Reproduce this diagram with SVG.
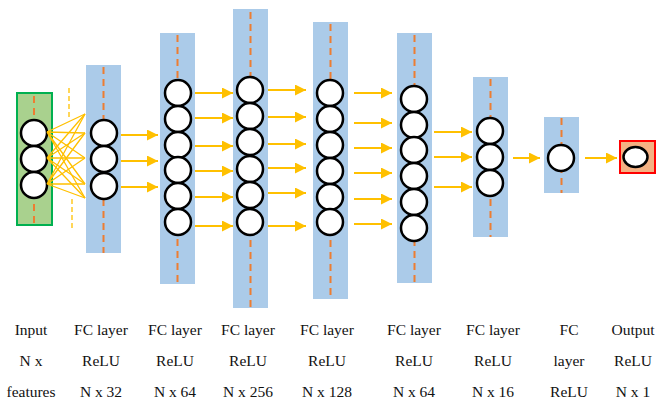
<svg xmlns="http://www.w3.org/2000/svg" width="659" height="402" viewBox="0 0 659 402">
  <style>
    .layer { fill: #abcbe9; }
    .axis { stroke: #ed7d31; stroke-width: 2; stroke-dasharray: 7 5; fill: none; }
    .neuron { fill: #ffffff; stroke: #000000; stroke-width: 2.5; }
    .arrow { stroke: #ffc000; stroke-width: 2; fill: none; marker-end: url(#head); }
    .fan { stroke: #ffc000; stroke-width: 1.3; fill: none; }
    .gap { stroke: #ffc000; stroke-width: 1.3; stroke-dasharray: 5 3; fill: none; }
  </style>
  <defs>
    <marker id="head" markerUnits="userSpaceOnUse" markerWidth="11" markerHeight="11" refX="11" refY="5.5" orient="auto">
      <path d="M0,0 L11,5.5 L0,11 Z" fill="#ffc000"/>
    </marker>
  </defs>
  <rect width="659" height="402" fill="#ffffff"/>

  <!-- input block -->
  <g id="input">
    <rect x="17" y="93" width="35" height="132" fill="#a9d18e" stroke="#00b050" stroke-width="2"/>
    <line class="axis" x1="34" y1="96" x2="34" y2="223"/>
    <circle class="neuron" cx="34" cy="133" r="13"/>
    <circle class="neuron" cx="34" cy="159" r="13"/>
    <circle class="neuron" cx="34" cy="185" r="13"/>
  </g>

  <!-- hidden layers -->
  <g id="fc32">
    <rect class="layer" x="86" y="65" width="35" height="188"/>
    <line class="axis" x1="103.5" y1="67" x2="103.5" y2="253"/>
    <circle class="neuron" cx="104" cy="133" r="13"/>
    <circle class="neuron" cx="104" cy="159" r="13"/>
    <circle class="neuron" cx="104" cy="186" r="13"/>
  </g>
  <g id="fc64a">
    <rect class="layer" x="160" y="33" width="35" height="251"/>
    <line class="axis" x1="177.5" y1="35" x2="177.5" y2="284"/>
    <circle class="neuron" cx="178" cy="93" r="13"/>
    <circle class="neuron" cx="178" cy="119" r="13"/>
    <circle class="neuron" cx="178" cy="145" r="13"/>
    <circle class="neuron" cx="178" cy="170" r="13"/>
    <circle class="neuron" cx="178" cy="196" r="13"/>
    <circle class="neuron" cx="178" cy="222" r="13"/>
  </g>
  <g id="fc256">
    <rect class="layer" x="233" y="9" width="35" height="299"/>
    <line class="axis" x1="250.5" y1="12" x2="250.5" y2="308"/>
    <circle class="neuron" cx="250" cy="90" r="13"/>
    <circle class="neuron" cx="250" cy="116" r="13"/>
    <circle class="neuron" cx="250" cy="142" r="13"/>
    <circle class="neuron" cx="250" cy="169" r="13"/>
    <circle class="neuron" cx="250" cy="195" r="13"/>
    <circle class="neuron" cx="250" cy="222" r="13"/>
  </g>
  <g id="fc128">
    <rect class="layer" x="313" y="22" width="35" height="277"/>
    <line class="axis" x1="330.5" y1="24" x2="330.5" y2="299"/>
    <circle class="neuron" cx="330" cy="93" r="13"/>
    <circle class="neuron" cx="330" cy="119" r="13"/>
    <circle class="neuron" cx="330" cy="145" r="13"/>
    <circle class="neuron" cx="330" cy="171" r="13"/>
    <circle class="neuron" cx="330" cy="197" r="13"/>
    <circle class="neuron" cx="330" cy="222" r="13"/>
  </g>
  <g id="fc64b">
    <rect class="layer" x="397" y="33" width="35" height="250"/>
    <line class="axis" x1="414.5" y1="35" x2="414.5" y2="283"/>
    <circle class="neuron" cx="414" cy="99" r="13"/>
    <circle class="neuron" cx="414" cy="125" r="13"/>
    <circle class="neuron" cx="414" cy="150" r="13"/>
    <circle class="neuron" cx="414" cy="176" r="13"/>
    <circle class="neuron" cx="414" cy="202" r="13"/>
    <circle class="neuron" cx="414" cy="228" r="13"/>
  </g>
  <g id="fc16">
    <rect class="layer" x="473" y="77" width="35" height="160"/>
    <line class="axis" x1="490.5" y1="79" x2="490.5" y2="237"/>
    <circle class="neuron" cx="490" cy="131" r="13"/>
    <circle class="neuron" cx="490" cy="157" r="13"/>
    <circle class="neuron" cx="490" cy="183" r="13"/>
  </g>
  <g id="fc1">
    <rect class="layer" x="544" y="117" width="35" height="76"/>
    <line class="axis" x1="561.5" y1="118" x2="561.5" y2="193"/>
    <circle class="neuron" cx="561" cy="158" r="13"/>
  </g>

  <!-- output block -->
  <g id="output">
    <rect x="620" y="141" width="35" height="32" fill="#f4b183" stroke="#ff0000" stroke-width="2"/>
    <ellipse class="neuron" cx="635.5" cy="157" rx="12" ry="10"/>
  </g>

  <!-- connectors -->
  <g id="connectors">
    <!-- input to first layer, fully connected -->
    <g id="fan">
      <path class="fan" d="M47,132 L85,114 M47,132 L85,133 M47,132 L85,158 M47,132 L85,184 M47,132 L85,198"/>
      <path class="fan" d="M47,158 L85,114 M47,158 L85,133 M47,158 L85,158 M47,158 L85,184 M47,158 L85,198"/>
      <path class="fan" d="M47,184 L85,114 M47,184 L85,133 M47,184 L85,158 M47,184 L85,184 M47,184 L85,198"/>
      <line class="gap" x1="69" y1="88" x2="69" y2="118"/>
      <line class="gap" x1="72" y1="199" x2="72" y2="228"/>
    </g>
    <line class="arrow" x1="121" y1="135" x2="158" y2="135"/>
    <line class="arrow" x1="121" y1="161" x2="158" y2="161"/>
    <line class="arrow" x1="121" y1="187" x2="158" y2="187"/>

    <line class="arrow" x1="195" y1="93" x2="233" y2="93"/>
    <line class="arrow" x1="195" y1="118" x2="233" y2="118"/>
    <line class="arrow" x1="195" y1="146" x2="233" y2="146"/>
    <line class="arrow" x1="195" y1="171" x2="233" y2="171"/>
    <line class="arrow" x1="195" y1="197" x2="233" y2="197"/>
    <line class="arrow" x1="195" y1="226" x2="233" y2="226"/>

    <line class="arrow" x1="268" y1="90" x2="306" y2="90"/>
    <line class="arrow" x1="268" y1="117" x2="306" y2="117"/>
    <line class="arrow" x1="268" y1="144" x2="306" y2="144"/>
    <line class="arrow" x1="268" y1="168" x2="306" y2="168"/>
    <line class="arrow" x1="268" y1="193" x2="306" y2="193"/>
    <line class="arrow" x1="268" y1="226" x2="306" y2="226"/>

    <line class="arrow" x1="354" y1="93" x2="392" y2="93"/>
    <line class="arrow" x1="354" y1="123" x2="392" y2="123"/>
    <line class="arrow" x1="354" y1="148" x2="392" y2="148"/>
    <line class="arrow" x1="354" y1="173" x2="392" y2="173"/>
    <line class="arrow" x1="354" y1="199" x2="392" y2="199"/>
    <line class="arrow" x1="354" y1="224" x2="392" y2="224"/>

    <line class="arrow" x1="434" y1="132" x2="472" y2="132"/>
    <line class="arrow" x1="434" y1="157" x2="472" y2="157"/>
    <line class="arrow" x1="434" y1="187" x2="472" y2="187"/>

    <line class="arrow" x1="513" y1="158" x2="540" y2="158"/>
    <line class="arrow" x1="585" y1="158" x2="617" y2="158"/>
  </g>

  <!-- captions -->
  <g id="captions" font-family="'Liberation Serif', 'DejaVu Serif', serif" font-size="15.5" fill="#111111" text-anchor="middle">
    <text x="31" y="335">Input</text>
    <text x="31" y="366">N x</text>
    <text x="31" y="397">features</text>

    <text x="101" y="335">FC layer</text>
    <text x="101" y="366">ReLU</text>
    <text x="101" y="397">N x 32</text>

    <text x="175" y="335">FC layer</text>
    <text x="175" y="366">ReLU</text>
    <text x="175" y="397">N x 64</text>

    <text x="248" y="335">FC layer</text>
    <text x="248" y="366">ReLU</text>
    <text x="248" y="397">N x 256</text>

    <text x="327" y="335">FC layer</text>
    <text x="327" y="366">ReLU</text>
    <text x="327" y="397">N x 128</text>

    <text x="414" y="335">FC layer</text>
    <text x="414" y="366">ReLU</text>
    <text x="414" y="397">N x 64</text>

    <text x="493" y="335">FC layer</text>
    <text x="493" y="366">ReLU</text>
    <text x="493" y="397">N x 16</text>

    <text x="569" y="335">FC</text>
    <text x="569" y="366">layer</text>
    <text x="569" y="397">ReLU</text>

    <text x="633" y="335">Output</text>
    <text x="633" y="366">ReLU</text>
    <text x="633" y="397">N x 1</text>
  </g>
</svg>
